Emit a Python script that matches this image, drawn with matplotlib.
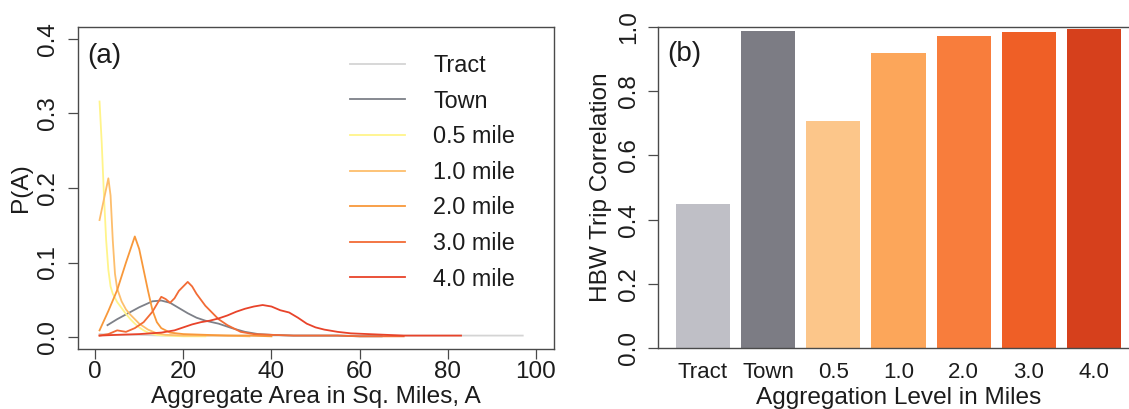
import matplotlib
matplotlib.use("Agg")
import matplotlib.pyplot as plt

plt.rcParams["font.family"] = ["Liberation Sans", "DejaVu Sans"]

# ---- panel (a): distribution of aggregate zone areas ----
series_names = ["Tract", "Town", "0.5 mile", "1.0 mile", "2.0 mile", "3.0 mile", "4.0 mile"]
line_colors = ["#d4d4d4", "#7d8088", "#fff48a", "#fdbe6c", "#f8983a", "#f26b35", "#e8432a"]

tract_x = [1, 5, 10, 15, 20, 30, 40, 50, 60, 70, 80, 90, 97]
tract_y = [0.004, 0.003, 0.003, 0.002, 0.002, 0.002, 0.002, 0.002, 0.002, 0.002, 0.002, 0.002, 0.002]

town_x = [2.8, 5, 7.5, 10, 13, 15, 17, 19, 21, 23, 25, 28, 31, 34, 37, 40, 45, 50, 55, 60, 65]
town_y = [0.016, 0.024, 0.032, 0.040, 0.048, 0.049, 0.046, 0.039, 0.032, 0.026, 0.022, 0.018,
          0.012, 0.007, 0.004, 0.003, 0.002, 0.002, 0.002, 0.001, 0.001]

half_x = [1, 1.5, 2, 2.5, 3, 3.5, 4, 5, 6, 7, 8, 9, 10, 11, 12, 14, 16, 20, 25]
half_y = [0.316, 0.26, 0.19, 0.13, 0.09, 0.068, 0.058, 0.047, 0.039, 0.031, 0.024, 0.018,
          0.013, 0.009, 0.006, 0.003, 0.002, 0.001, 0.001]

one_x = [1, 2, 3, 3.5, 4, 4.5, 5, 6, 7, 8, 9, 10, 12, 14, 16, 20, 25, 30, 35]
one_y = [0.157, 0.185, 0.213, 0.19, 0.13, 0.085, 0.065, 0.048, 0.037, 0.030, 0.024, 0.018,
         0.010, 0.005, 0.003, 0.002, 0.002, 0.002, 0.001]

two_x = [1, 3, 5, 7, 9, 10, 11, 12, 13, 14, 15, 17, 20, 25, 30, 35, 40]
two_y = [0.009, 0.035, 0.063, 0.100, 0.135, 0.118, 0.090, 0.062, 0.036, 0.020, 0.012, 0.006,
         0.004, 0.003, 0.002, 0.002, 0.001]

three_x = [1, 3, 5, 7, 9, 11, 13, 15, 16, 17, 18, 19, 21, 22, 23, 25, 28, 30, 33, 36, 40,
           45, 50, 55, 60, 65, 70]
three_y = [0.002, 0.004, 0.009, 0.007, 0.012, 0.020, 0.034, 0.054, 0.051, 0.046, 0.052, 0.062,
           0.074, 0.068, 0.058, 0.042, 0.024, 0.016, 0.007, 0.004, 0.003, 0.002, 0.002, 0.002,
           0.001, 0.001, 0.001]

four_x = [1, 5, 10, 15, 18, 20, 22, 24, 26, 28, 30, 32, 34, 36, 38, 40, 42, 44, 46, 48, 50,
          52, 55, 58, 62, 66, 70, 75, 80, 83]
four_y = [0.002, 0.003, 0.004, 0.006, 0.009, 0.013, 0.017, 0.020, 0.022, 0.025, 0.029, 0.034,
          0.038, 0.041, 0.043, 0.041, 0.036, 0.033, 0.026, 0.018, 0.013, 0.010, 0.007, 0.005,
          0.004, 0.003, 0.002, 0.002, 0.002, 0.002]

curve_x = [tract_x, town_x, half_x, one_x, two_x, three_x, four_x]
curve_y = [tract_y, town_y, half_y, one_y, two_y, three_y, four_y]

x_ticks_a = [0, 20, 40, 60, 80, 100]
y_ticks_a = [0.0, 0.1, 0.2, 0.3, 0.4]

# ---- panel (b): HBW trip correlation by aggregation level ----
bar_labels = ["Tract", "Town", "0.5", "1.0", "2.0", "3.0", "4.0"]
bar_values = [0.45, 0.988, 0.707, 0.92, 0.972, 0.984, 0.994]
bar_colors = ["#bfbfc6", "#7c7c84", "#fcc68a", "#fca65a", "#f87d3c", "#ef5f26", "#d6401c"]
y_ticks_b = [0.0, 0.2, 0.4, 0.6, 0.8, 1.0]

TEXT = "#1c1c1c"
AXC = "#4a4a4a"

W, H = 1129, 409
fig = plt.figure(figsize=(W / 100, H / 100), dpi=100)
fig.patch.set_facecolor("white")


def px_axes(left, right, top, bottom):
    return fig.add_axes([left / W, 1 - bottom / H, (right - left) / W, (bottom - top) / H])


def style(ax, fs):
    for s in ax.spines.values():
        s.set_color(AXC)
        s.set_linewidth(1.0)
    ax.tick_params(axis="both", direction="out", length=7, width=0.9, color=AXC,
                   labelsize=fs, labelcolor=TEXT)
    ax.tick_params(axis="y", labelrotation=90, pad=6)
    for lbl in ax.get_yticklabels():
        lbl.set_verticalalignment("center")


# panel (a)
ax1 = px_axes(77.5, 553.6, 27, 349)
for xs, ys, name, col in zip(curve_x, curve_y, series_names, line_colors):
    ax1.plot(xs, ys, color=col, lw=1.3, label=name)
ax1.set_xlim(-4, 104)
ax1.set_ylim(-0.016, 0.416)
ax1.set_xticks(x_ticks_a)
ax1.set_yticks(y_ticks_a)
ax1.set_yticklabels([f"{v:.1f}" for v in y_ticks_a])
style(ax1, 17.5)
ax1.tick_params(axis="x", pad=2)
ax1.set_xlabel("Aggregate Area in Sq. Miles, A", fontsize=17.6, color=TEXT, labelpad=2)
ax1.set_ylabel("P(A)", fontsize=17.6, color=TEXT, labelpad=4)
ax1.text(0.02, 0.91, "(a)", transform=ax1.transAxes, fontsize=20, color=TEXT,
         ha="left", va="center")
leg = ax1.legend(loc="upper left", bbox_to_anchor=(0.5724, 0.916), frameon=False,
                 fontsize=16.8, handlelength=2.36, handletextpad=1.2, labelspacing=0.54,
                 borderpad=0, borderaxespad=0)
for t in leg.get_texts():
    t.set_color(TEXT)

# panel (b)
ax2 = px_axes(658, 1139, 27, 348)
centers = [0.7 + 1.2 * i for i in range(len(bar_values))]
ax2.bar(centers, bar_values, width=1.0, color=bar_colors, edgecolor="none")
ax2.set_xlim(-0.128, 8.728)
ax2.set_ylim(0, 1)
ax2.set_xticks(centers)
ax2.set_xticklabels(bar_labels)
ax2.set_yticks(y_ticks_b)
ax2.set_yticklabels([f"{v:.1f}" for v in y_ticks_b])
style(ax2, 17.5)
ax2.tick_params(axis="x", length=0, pad=10, labelsize=16)
ax2.set_xlabel("Aggregation Level in Miles", fontsize=17.6, color=TEXT, labelpad=3)
ax2.set_ylabel("HBW Trip Correlation", fontsize=17.6, color=TEXT, labelpad=4)
ax2.text(0.019, 0.915, "(b)", transform=ax2.transAxes, fontsize=20, color=TEXT,
         ha="left", va="center")

fig.savefig("out.png", dpi=100, facecolor="white")
